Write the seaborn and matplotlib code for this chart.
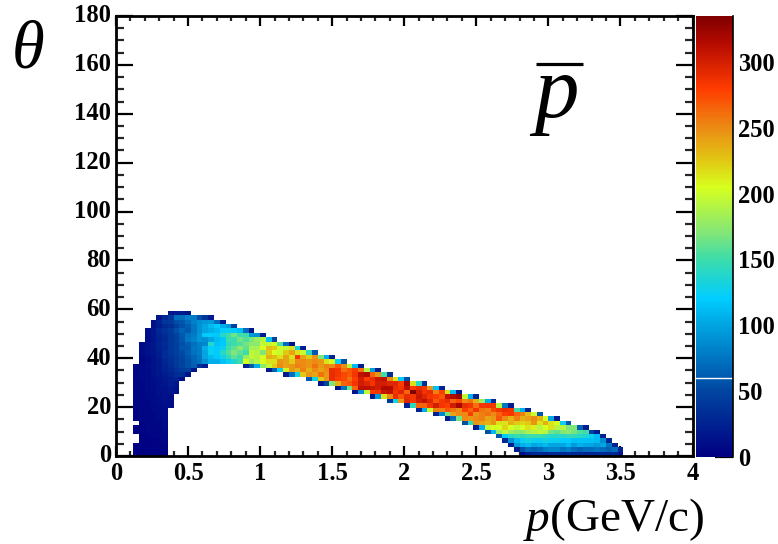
import matplotlib
matplotlib.use("Agg")
import matplotlib.pyplot as plt
from matplotlib.colors import LinearSegmentedColormap
from matplotlib.lines import Line2D
import numpy as np
import pandas as pd
import seaborn as sns

sns.set_theme(style="ticks")
plt.rcParams['font.family'] = ['Liberation Serif', 'DejaVu Serif']
plt.rcParams['mathtext.fontset'] = 'custom'
plt.rcParams['mathtext.rm'] = 'Liberation Serif'
plt.rcParams['mathtext.it'] = 'Liberation Serif:italic'

# 100 x 100 bins, p from 0 to 4 GeV/c, theta from 0 to 180
p_max = 4.0
theta_max = 180.0
n_bins = 100
z_max = 335

p_ticks = [0, 0.5, 1, 1.5, 2, 2.5, 3, 3.5, 4]
p_labels = ['0', '0.5', '1', '1.5', '2', '2.5', '3', '3.5', '4']
theta_ticks = [0, 20, 40, 60, 80, 100, 120, 140, 160, 180]
z_ticks = [0, 50, 100, 150, 200, 250, 300]

# counts, one list per theta bin from the bottom up: (first p bin, counts)
row_00 = [(3, [1, 1, 1, 1, 1, 1]), (70, [10, 22, 28, 30, 25, 30, 30, 28, 32, 30, 28, 25, 28, 30, 28, 30, 30, 15])]
row_01 = [(3, [1, 1, 2, 2, 2, 2]), (69, [20, 55, 70, 65, 70, 80, 85, 85, 75, 80, 70, 65, 70, 70, 75, 70, 65, 70, 25])]
row_02 = [(3, [1, 2, 2, 2, 3, 3]), (68, [20, 95, 105, 110, 100, 105, 110, 100, 100, 100, 110, 95, 105, 100, 100, 95, 100, 75, 25])]
row_03 = [(4, [2, 2, 3, 3, 4]), (67, [30, 90, 110, 125, 130, 125, 125, 130, 125, 125, 120, 120, 115, 115, 115, 115, 110, 90, 30])]
row_04 = [(4, [2, 3, 4, 4, 5]), (66, [60, 120, 140, 150, 145, 150, 150, 150, 145, 140, 140, 140, 145, 145, 140, 135, 125, 110, 25])]
row_05 = [(3, [2, 3, 4, 4, 5, 6]), (64, [55, 110, 180, 195, 180, 175, 175, 185, 190, 195, 190, 165, 160, 170, 175, 165, 155, 150, 45, 20])]
row_06 = [(3, [2, 3, 4, 5, 6, 7]), (62, [20, 105, 195, 205, 205, 220, 205, 195, 205, 215, 210, 190, 205, 215, 190, 190, 170, 170, 65, 20])]
row_07 = [(4, [3, 4, 5, 6, 7]), (60, [55, 145, 245, 240, 235, 245, 215, 215, 235, 225, 220, 225, 245, 215, 235, 215, 205, 125, 60])]
row_08 = [(3, [3, 4, 5, 6, 7, 8]), (57, [20, 70, 165, 250, 245, 250, 255, 240, 245, 270, 250, 235, 255, 235, 240, 250, 235, 205, 100, 20])]
row_09 = [(3, [3, 4, 5, 6, 8, 9]), (55, [25, 85, 165, 240, 250, 250, 280, 245, 255, 260, 250, 265, 280, 285, 265, 255, 230, 200, 60])]
row_10 = [(3, [3, 5, 6, 7, 9, 10]), (52, [25, 105, 200, 255, 255, 270, 260, 250, 280, 265, 285, 260, 255, 275, 285, 290, 285, 150, 105, 25])]
row_11 = [(3, [4, 5, 6, 7, 9, 11, 9]), (50, [25, 145, 265, 265, 285, 300, 285, 280, 300, 320, 290, 285, 260, 285, 285, 285, 190, 75, 20])]
row_12 = [(3, [4, 5, 6, 8, 10, 12, 10]), (47, [40, 130, 245, 295, 285, 300, 310, 295, 270, 285, 290, 265, 275, 250, 260, 235, 180, 105, 30])]
row_13 = [(3, [4, 5, 7, 8, 11, 13, 10]), (44, [15, 95, 215, 250, 290, 270, 290, 285, 305, 295, 285, 280, 270, 310, 315, 325, 195, 105, 25])]
row_14 = [(3, [4, 6, 7, 9, 12, 14, 16, 12]), (41, [15, 90, 195, 280, 285, 305, 310, 285, 295, 265, 335, 300, 285, 290, 255, 280, 215, 110, 20])]
row_15 = [(3, [4, 6, 8, 10, 12, 14, 18, 14]), (38, [15, 75, 165, 265, 310, 310, 305, 300, 315, 315, 290, 285, 310, 280, 290, 285, 245, 115, 25])]
row_16 = [(3, [5, 6, 8, 10, 13, 16, 20, 16]), (35, [15, 50, 170, 235, 265, 270, 285, 300, 295, 285, 300, 300, 295, 295, 280, 320, 215, 140, 35])]
row_17 = [(3, [5, 7, 8, 11, 14, 18, 22, 26, 12]), (33, [60, 130, 225, 245, 290, 280, 275, 260, 280, 300, 280, 290, 305, 310, 250, 215, 120, 55])]
row_18 = [(3, [5, 7, 9, 12, 16, 22, 26, 32, 35, 15]), (29, [20, 70, 130, 225, 245, 240, 260, 245, 290, 285, 275, 270, 285, 310, 315, 265, 245, 150, 35])]
row_19 = [(3, [5, 7, 9, 12, 18, 24, 30, 36, 42, 45, 18]), (26, [20, 65, 125, 210, 245, 235, 255, 235, 250, 240, 250, 290, 285, 260, 270, 280, 260, 190, 95, 20])]
row_20 = [(3, [6, 8, 10, 12, 18, 26, 32, 40, 48, 55, 62, 35, 20]), (22, [25, 60, 105, 175, 195, 225, 250, 240, 245, 255, 250, 245, 260, 245, 255, 250, 270, 250, 190, 110, 20])]
row_21 = [(4, [6, 9, 14, 18, 30, 35, 42, 48, 55, 65, 72, 90, 105, 105, 115, 125, 135, 150, 205, 180, 190, 205, 215, 215, 245, 240, 225, 250, 250, 245, 250, 245, 215, 205, 125, 55])]
row_22 = [(4, [6, 10, 14, 20, 32, 36, 42, 50, 58, 68, 75, 100, 110, 118, 130, 145, 160, 150, 180, 195, 190, 205, 235, 230, 215, 240, 215, 285, 240, 225, 245, 170, 105, 25])]
row_23 = [(4, [8, 12, 15, 22, 32, 38, 45, 52, 62, 72, 78, 100, 125, 120, 140, 155, 170, 160, 150, 195, 190, 170, 225, 205, 200, 225, 240, 215, 200, 145, 60])]
row_24 = [(4, [8, 12, 16, 24, 30, 40, 45, 58, 60, 75, 78, 105, 122, 118, 125, 150, 160, 175, 160, 185, 185, 205, 230, 225, 200, 195, 215, 130, 20])]
row_25 = [(4, [8, 12, 18, 26, 32, 40, 45, 55, 62, 72, 80, 85, 140, 115, 118, 145, 150, 155, 165, 175, 175, 195, 195, 205, 155, 70, 15])]
row_26 = [(5, [10, 15, 24, 30, 38, 46, 58, 75, 82, 92, 90, 100, 112, 118, 150, 150, 165, 155, 168, 180, 190, 115, 50])]
row_27 = [(5, [10, 16, 26, 32, 40, 48, 60, 72, 78, 92, 118, 120, 118, 140, 150, 165, 150, 150, 95, 90, 20])]
row_28 = [(5, [10, 16, 28, 36, 42, 55, 65, 60, 75, 90, 100, 105, 112, 122, 125, 120, 115, 70, 15])]
row_29 = [(6, [14, 22, 30, 35, 45, 55, 62, 75, 90, 100, 110, 120, 105, 95, 45])]
row_30 = [(6, [12, 25, 38, 42, 55, 60, 70, 80, 88, 92, 95, 70, 20])]
row_31 = [(7, [15, 30, 38, 70, 70, 80, 78, 55, 40, 20])]
row_32 = [(9, [18, 22, 20, 15])]

rows = [row_00, row_01, row_02, row_03, row_04, row_05, row_06, row_07, row_08, row_09, row_10,
        row_11, row_12, row_13, row_14, row_15, row_16, row_17, row_18, row_19, row_20, row_21,
        row_22, row_23, row_24, row_25, row_26, row_27, row_28, row_29, row_30, row_31, row_32]

# palette
palette_values = [0, 50, 60, 100, 120, 150, 170, 205, 225, 250, 280, 315, 335]
palette_colors = ['#000082', '#0046a0', '#005aaf', '#00a5e1', '#00cdff', '#3cdcaa', '#82e678',
                  '#d7ff1e', '#e1c814', '#eb8c14', '#ff3c00', '#b40a00', '#800000']
root_cmap = LinearSegmentedColormap.from_list(
    'root_palette', [(v / z_max, c) for v, c in zip(palette_values, palette_colors)])

grid = np.full((n_bins, n_bins), np.nan)
for j, row in enumerate(rows):
    for first, counts in row:
        grid[j, first:first + len(counts)] = counts
df = pd.DataFrame(grid)

W, H = 778, 544
fig = plt.figure(figsize=(W / 100, H / 100), dpi=100, facecolor='white')
ax = fig.add_axes([116 / W, (H - 456) / H, 576.5 / W, 440 / H])
cax = fig.add_axes([696 / W, (H - 456.5) / H, 36.5 / W, 440.5 / H])

sns.heatmap(df, ax=ax, cbar_ax=cax, cmap=root_cmap, vmin=0, vmax=z_max)

ax.set_xlim(0, n_bins)
ax.set_ylim(0, n_bins)
for side in ax.spines:
    ax.spines[side].set_visible(True)
    ax.spines[side].set_linewidth(2)
    ax.spines[side].set_color('black')

# heatmap axes count bins, so convert physical ticks to bin units
x_scale = n_bins / p_max
y_scale = n_bins / theta_max
ax.set_xticks([t * x_scale for t in p_ticks])
ax.set_xticklabels(p_labels, rotation=0)
ax.set_yticks([t * y_scale for t in theta_ticks])
ax.set_yticklabels([str(t) for t in theta_ticks], rotation=0)
ax.set_xticks(np.arange(0, 4.01, 0.1) * x_scale, minor=True)
ax.set_yticks(np.arange(0, 180.1, 5) * y_scale, minor=True)
ax.tick_params(axis='x', which='major', direction='in', top=True, bottom=True, length=7.5, width=1.6, pad=4.5, colors='black')
ax.tick_params(axis='x', which='minor', direction='in', top=True, bottom=True, length=3.8, width=1.6)
ax.tick_params(axis='y', which='major', direction='in', left=True, right=True, length=12.5, width=1.6, pad=3.5, colors='black')
ax.tick_params(axis='y', which='minor', direction='in', left=True, right=True, length=6, width=1.6)
for lab in ax.get_xticklabels() + ax.get_yticklabels():
    lab.set_fontweight('bold')
    lab.set_fontsize(17.7)

cax.set_yticks(z_ticks)
cax.set_yticklabels([str(t) for t in z_ticks], fontweight='bold', fontsize=17.7)
cax.tick_params(axis='y', which='major', direction='in', right=True, left=False, length=13, width=1.6, pad=4, colors='black')
cax.tick_params(axis='y', which='minor', length=0)
for side in cax.spines:
    cax.spines[side].set_visible(False)
cax.spines['right'].set_visible(True)
cax.spines['right'].set_linewidth(1.2)
cax.spines['right'].set_color('black')
cax.axhline(60, color='white', lw=1)

ax.set_xlabel('$p$(GeV/c)', fontsize=34, color='black', ha='right', va='baseline')
ax.xaxis.set_label_coords((704 - 116) / 576.5, (456 - 531) / 440)
ax.set_ylabel('θ', fontsize=48, fontstyle='italic', color='black', rotation=0, ha='left', va='baseline')
ax.yaxis.set_label_coords((12 - 116) / 576.5, (456 - 68) / 440)

ax.text((534 - 116) / 576.5, (456 - 117) / 440, 'p', transform=ax.transAxes,
        fontsize=64, fontstyle='italic', color='black', ha='left', va='baseline')
fig.add_artist(Line2D([536 / W, 583 / W], [(H - 63.5) / H, (H - 63.5) / H], color='black', lw=2.3,
                      solid_capstyle='butt'))

fig.savefig('out.png', dpi=100, facecolor='white')
